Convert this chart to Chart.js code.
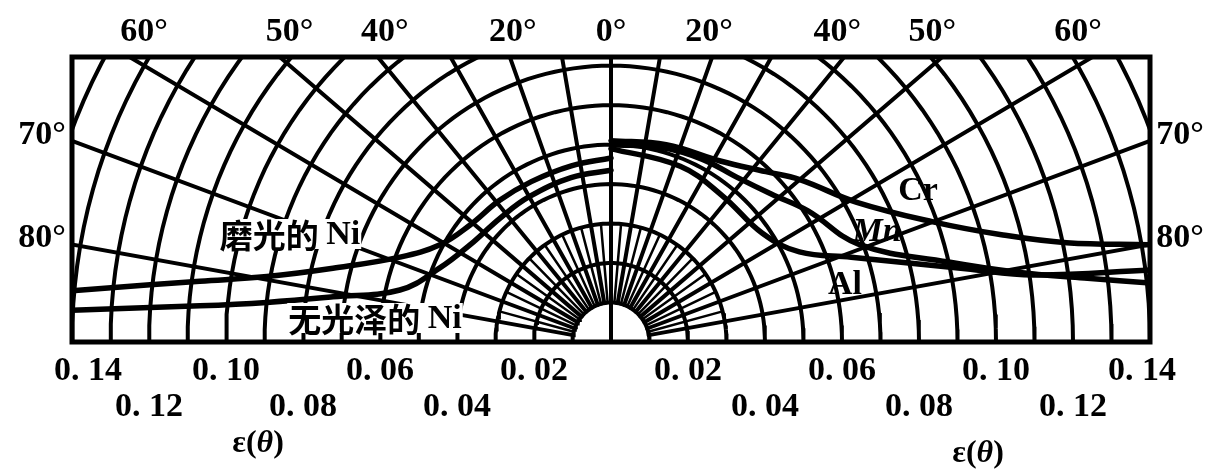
<!DOCTYPE html>
<html>
<head>
<meta charset="utf-8">
<script src="https://cdn.jsdelivr.net/npm/chart.js@4.4.1/dist/chart.umd.min.js"></script>
<style>
  body { margin: 0; background: #fff; }
  #wrap { width: 1207px; height: 470px; }
</style>
</head>
<body>
<div id="wrap"><canvas id="emChart"></canvas></div>
<script>
// polar grid: emissivity rings and spokes (degrees from the surface normal)
const ringValues = [0.01, 0.02, 0.03, 0.04, 0.05, 0.06, 0.07, 0.08, 0.09, 0.10, 0.11, 0.12, 0.13, 0.14, 0.15];
const spokeAngles = [-80, -70, -60, -50, -40, -30, -20, -10, 0, 10, 20, 30, 40, 50, 60, 70, 80];
const fineSpokeAngles = [-75, -65, -55, -45, -35, -25, -15, -5, 5, 15, 25, 35, 45, 55, 65, 75];
const topAngleLabels = [0, 20, 40, 50, 60];
const sideAngleLabels = [70, 80];
const epsTicks = [0.02, 0.04, 0.06, 0.08, 0.10, 0.12, 0.14];

// directional emissivity, right half
const crAngle = [0, 16, 32, 43, 50, 61, 70, 75, 78, 80];
const crEps = [0.051, 0.052, 0.054, 0.059, 0.064, 0.073, 0.089, 0.105, 0.121, 0.142];
const mnAngle = [0, 15, 27, 38, 48, 57, 69, 77, 80.5, 82.5, 84];
const mnEps = [0.050, 0.051, 0.052, 0.053, 0.056, 0.061, 0.069, 0.090, 0.107, 0.124, 0.142];
const alAngle = [0, 22, 38, 55, 65, 71, 78.6, 81.2, 82.6];
const alEps = [0.049, 0.048, 0.047, 0.048, 0.054, 0.066, 0.094, 0.111, 0.142];

// directional emissivity, left half (nickel)
const niPolAngle = [0, 13, 27, 39, 51, 61, 68.6, 75.5, 79.5, 81.8, 83.1, 84.7];
const niPolEps = [0.0466, 0.0458, 0.0456, 0.0461, 0.0471, 0.0508, 0.0589, 0.0746, 0.0909, 0.1079, 0.1206, 0.1406];
const niMatAngle = [0, 14, 30, 42.5, 56, 67, 76.5, 81, 83.6, 85.1, 86.7];
const niMatEps = [0.0435, 0.0429, 0.0425, 0.0426, 0.0441, 0.0482, 0.0564, 0.0731, 0.09, 0.1072, 0.1402];

const xMax = 0.14;
const yMax = 0.0722;
const rad = (d) => (d * Math.PI) / 180;
const toXY = (deg, eps) => ({ x: eps * Math.sin(rad(deg)), y: eps * Math.cos(rad(deg)) });

function lineSet(points, width) {
  return {
    data: points,
    showLine: true,
    borderColor: "#000",
    borderWidth: width,
    pointRadius: 0,
    tension: 0,
    borderCapStyle: "round",
  };
}

function curveSet(angles, eps, side, width) {
  const ds = lineSet(angles.map((a, i) => toXY(a * side, eps[i])), width);
  ds.tension = 0.4;
  return ds;
}

const datasets = [];
ringValues.forEach((r) => {
  const pts = [];
  for (let a = -90; a <= 90; a += 2) pts.push(toXY(a, r));
  datasets.push(lineSet(pts, 4));
});
spokeAngles.forEach((a) => {
  datasets.push(lineSet([toXY(a, a === 0 ? 0 : 0.01), toXY(a, 0.2)], 4));
});
fineSpokeAngles.forEach((a) => {
  datasets.push(lineSet([toXY(a, 0.01), toXY(a, 0.03)], 2.5));
});
datasets.push(curveSet(crAngle, crEps, 1, 5.5));
datasets.push(curveSet(mnAngle, mnEps, 1, 5.5));
datasets.push(curveSet(alAngle, alEps, 1, 5.5));
datasets.push(curveSet(niPolAngle, niPolEps, -1, 5.5));
datasets.push(curveSet(niMatAngle, niMatEps, -1, 5.5));

const labelPlugin = {
  id: "labelPlugin",
  afterDraw(chart) {
    const { ctx, chartArea: { left, right, top, bottom }, scales: { x, y } } = chart;
    ctx.save();
    ctx.strokeStyle = "#000";
    ctx.lineWidth = 5;
    ctx.strokeRect(left, top, right - left, bottom - top);

    ctx.fillStyle = "#000";
    ctx.textAlign = "center";
    ctx.textBaseline = "middle";
    ctx.font = "bold 34px 'Liberation Serif'";

    // angle labels on the top edge
    topAngleLabels.forEach((a) => {
      const dx = yMax * Math.tan(rad(a));
      [1, -1].forEach((s) => {
        if (a === 0 && s < 0) return;
        ctx.fillText(a + "°", x.getPixelForValue(s * dx * 0.97), 32);
      });
    });
    // angle labels on the side edges
    sideAngleLabels.forEach((a) => {
      const py = y.getPixelForValue(xMax / Math.tan(rad(a))) - 6;
      ctx.fillText(a + "°", 42, py);
      ctx.fillText(a + "°", 1180, py);
    });

    // emissivity ticks, two staggered rows each side
    epsTicks.forEach((v, i) => {
      const txt = "0. " + String(Math.round(v * 100)).padStart(2, "0");
      const row = i % 2 === 0 ? 371 : 407;
      [1, -1].forEach((s) => {
        let px = x.getPixelForValue(s * v);
        if (v === 0.14) px -= s * (s > 0 ? 8 : 16);
        ctx.fillText(txt, px, row);
      });
    });

    // axis names
    const epsName = (cx, cy) => {
      ctx.textAlign = "left";
      ctx.font = "bold 32px 'Liberation Serif'";
      const w1 = ctx.measureText("ε(").width;
      ctx.font = "italic bold 32px 'Liberation Serif'";
      const w2 = ctx.measureText("θ").width;
      ctx.font = "bold 32px 'Liberation Serif'";
      const w3 = ctx.measureText(")").width;
      let sx = cx - (w1 + w2 + w3) / 2;
      ctx.fillText("ε(", sx, cy);
      ctx.font = "italic bold 32px 'Liberation Serif'";
      ctx.fillText("θ", sx + w1, cy);
      ctx.font = "bold 32px 'Liberation Serif'";
      ctx.fillText(")", sx + w1 + w2, cy);
      ctx.textAlign = "center";
    };
    epsName(258, 444);
    epsName(978, 454);

    // curve names
    const mixed = (cjk, latin, cx, cy) => {
      ctx.textAlign = "left";
      ctx.font = "bold 33px 'Noto Sans CJK SC'";
      const w1 = ctx.measureText(cjk + " ").width;
      ctx.font = "bold 34px 'Liberation Serif'";
      const w2 = ctx.measureText(latin).width;
      const sx = cx - (w1 + w2) / 2;
      ctx.fillStyle = "#fff";
      ctx.fillRect(sx - 1, cy - 15, w1 + w2 + 2, 30);
      ctx.fillStyle = "#000";
      ctx.font = "bold 33px 'Noto Sans CJK SC'";
      ctx.fillText(cjk, sx, cy + 1);
      ctx.font = "bold 34px 'Liberation Serif'";
      ctx.fillText(latin, sx + w1, cy + 1);
      ctx.textAlign = "center";
    };
    mixed("磨光的", "Ni", 290, 234);
    mixed("无光泽的", "Ni", 375, 318);

    ctx.font = "bold 34px 'Liberation Serif'";
    ctx.fillText("Cr", 918, 191);
    ctx.fillText("Al", 845, 285);
    ctx.font = "italic bold 34px 'Liberation Serif'";
    ctx.fillText("Mn", 877, 232);
    ctx.restore();
  },
};

new Chart(document.getElementById("emChart"), {
  type: "scatter",
  data: { datasets },
  options: {
    responsive: true,
    maintainAspectRatio: false,
    animation: false,
    layout: { padding: { left: 72, right: 57, top: 57, bottom: 128 } },
    scales: {
      x: { type: "linear", min: -xMax, max: xMax, display: false },
      y: { type: "linear", min: 0, max: yMax, display: false },
    },
    plugins: { legend: { display: false }, tooltip: { enabled: false } },
  },
  plugins: [labelPlugin],
});
</script>
</body>
</html>
